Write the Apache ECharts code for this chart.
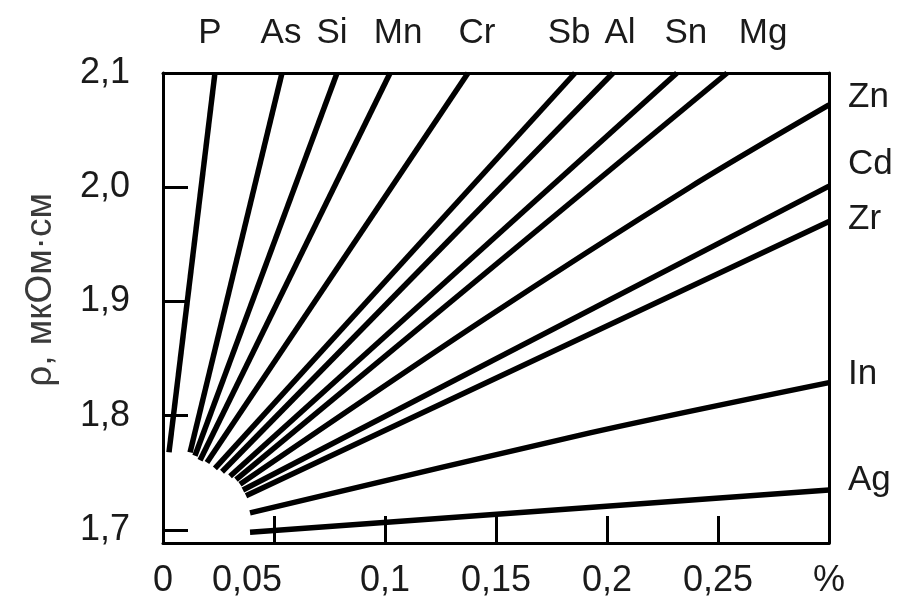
<!DOCTYPE html>
<html>
<head>
<meta charset="utf-8">
<script src="https://cdn.jsdelivr.net/npm/echarts@6/dist/echarts.min.js"></script>
<style>
html,body{margin:0;padding:0;background:#fff;}
#c{width:901px;height:610px;}
</style>
</head>
<body>
<div id="c"></div>
<script>
// ---- data (x = %, y = ρ, мкОм·см) ----
const topNames = ['P','As','Si','Mn','Cr','Sb','Al','Sn','Mg'];
const rightNames = ['Zn','Cd','Zr','In','Ag'];

const P  = [[0.0027,1.768],[0.0234,2.1]];
const As = [[0.0122,1.768],[0.0536,2.1]];
const Si = [[0.0144,1.765],[0.0784,2.1]];
const Mn = [[0.0167,1.761],[0.1023,2.1]];
const Cr = [[0.0198,1.759],[0.1374,2.1]];
const Sb = [[0.0234,1.754],[0.1856,2.1]];
const Al = [[0.0266,1.751],[0.2027,2.1]];
const Sn = [[0.0302,1.747],[0.2315,2.1]];
const Mg = [[0.0329,1.744],[0.2541,2.1]];
const Zn = [[0.0347,1.740],[0.1428,1.882],[0.2374,2.000],[0.3,2.072]];
const Cd = [[0.0360,1.735],[0.3,2.001]];
const Zr = [[0.0374,1.730],[0.3,1.970]];
const In = [[0.0392,1.715],[0.1923,1.785],[0.3,1.829]];
const Ag = [[0.0392,1.698],[0.3,1.735]];

const xTickValues = [0.05,0.1,0.15,0.2,0.25];
const xLabelValues = [0,0.05,0.1,0.15,0.2,0.25,0.3];
const xLabelTexts = ['0','0,05','0,1','0,15','0,2','0,25','%'];
const yTickValues = [1.7,1.8,1.9,2.0];
const yLabelValues = [1.7,1.8,1.9,2.0,2.1];
const yLabelTexts = ['1,7','1,8','1,9','2,0','2,1'];
const yTitle = 'ρ, мкОм·см';

// ---- layout (label nudges in px) ----
const topNudge = [-5,-1,-5,8,9,-6,7,9,36];
const rightNudge = [-8,-22,-2,-8,-10];

const lineData = {P,As,Si,Mn,Cr,Sb,Al,Sn,Mg,Zn,Cd,Zr,In,Ag};
const FONT = '"Liberation Sans", Arial, sans-serif';

const series = [];
topNames.forEach((n,i)=>{
  series.push({
    name:n, type:'line', data:lineData[n], showSymbol:false, clip:false,
    lineStyle:{color:'#000',width:5.5}, silent:true,
    endLabel:{show:true, formatter:'{a}', align:'center', verticalAlign:'middle', distance:0,
      offset:[topNudge[i],-40], fontFamily:FONT, fontSize:35, color:'#1a1a1a'}
  });
});
rightNames.forEach((n,i)=>{
  series.push({
    name:n, type:'line', data:lineData[n], showSymbol:false, clip:false,
    smooth:0.3,
    lineStyle:{color:'#000',width:5.5}, silent:true,
    endLabel:{show:true, formatter:'{a}', align:'left', verticalAlign:'middle', distance:19,
      offset:[0,rightNudge[i]], fontFamily:FONT, fontSize:35, color:'#1a1a1a'}
  });
});

const axisLineStyle = {show:true, onZero:false, lineStyle:{color:'#000',width:3}};

const chart = echarts.init(document.getElementById('c'), null, {renderer:'canvas'});
chart.setOption({
  animation:false,
  backgroundColor:'#fff',
  grid:{left:163,right:72,top:73,bottom:67,containLabel:false},
  xAxis:[{
    type:'value', min:0, max:0.3, position:'bottom',
    axisLine:axisLineStyle,
    axisTick:{show:true, inside:true, length:27, customValues:xTickValues, lineStyle:{color:'#000',width:3}},
    axisLabel:{show:true, customValues:xLabelValues, margin:20, fontFamily:FONT, fontSize:36, color:'#1a1a1a',
      formatter:(v)=>{ const i = xLabelValues.findIndex(a=>Math.abs(a-v)<1e-9); return i>=0 ? (i===1 ? '{s|'+xLabelTexts[i]+'}' : xLabelTexts[i]) : ''; },
      rich:{s:{fontFamily:FONT, fontSize:36, color:'#1a1a1a', padding:[0,54,0,0]}}},
    splitLine:{show:false}
  },{
    type:'value', min:0, max:0.3, position:'top',
    axisLine:axisLineStyle, axisTick:{show:false}, axisLabel:{show:false}, splitLine:{show:false}
  }],
  yAxis:[{
    type:'value', min:1.6886, max:2.1, position:'left',
    axisLine:axisLineStyle,
    axisTick:{show:true, inside:true, length:25, customValues:yTickValues, lineStyle:{color:'#000',width:3}},
    axisLabel:{show:true, customValues:yLabelValues, margin:33, fontFamily:FONT, fontSize:36, color:'#1a1a1a',
      formatter:(v)=>{ const i = yLabelValues.findIndex(a=>Math.abs(a-v)<1e-9); return i>=0 ? yLabelTexts[i] : ''; }},
    splitLine:{show:false},
    name:yTitle, nameLocation:'middle', nameRotate:90, nameGap:104,
    nameTextStyle:{fontFamily:FONT, fontSize:37, color:'#3a3a3a', padding:[0,0,0,36]}
  },{
    type:'value', min:1.6886, max:2.1, position:'right',
    axisLine:axisLineStyle, axisTick:{show:false}, axisLabel:{show:false}, splitLine:{show:false}
  }],
  series:series
});
</script>
</body>
</html>
